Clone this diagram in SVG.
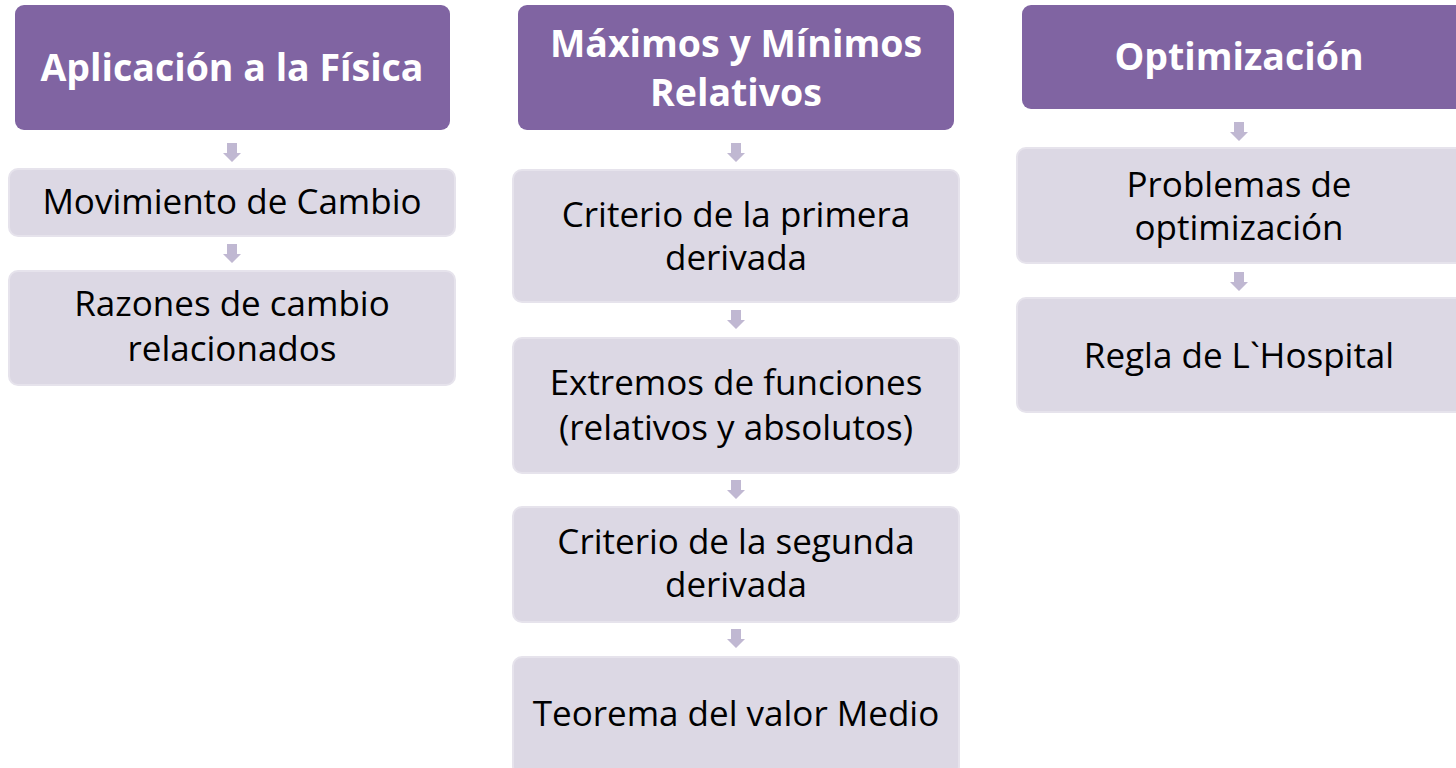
<svg xmlns="http://www.w3.org/2000/svg" xmlns:xlink="http://www.w3.org/1999/xlink" width="1456" height="768" viewBox="0 0 1456 768">
<defs>
<style>
.hdr{fill:#8064A2;}
.box{fill:#DCD8E4;stroke:#E6E3EC;stroke-width:2;}
.ht{font-family:"Open Sans",Lato,"Liberation Sans",sans-serif;font-weight:bold;font-size:37.5px;fill:#FFFFFF;text-anchor:middle;}
.bt{font-family:"Open Sans",Lato,"Liberation Sans",sans-serif;font-size:35px;fill:#000000;text-anchor:middle;}
.arr{fill:#C0B8D2;}
</style>
<path id="arrow" class="arr" d="M-5,0 H5 V10 H9 L0,19 L-9,10 H-5 Z"/>
</defs>
<rect width="1456" height="768" fill="#FFFFFF"/>
<g id="connectors">
<use xlink:href="#arrow" transform="translate(232,143)"/>
<use xlink:href="#arrow" transform="translate(232,244)"/>
<use xlink:href="#arrow" transform="translate(736,143)"/>
<use xlink:href="#arrow" transform="translate(736,310)"/>
<use xlink:href="#arrow" transform="translate(736,480)"/>
<use xlink:href="#arrow" transform="translate(736,629)"/>
<use xlink:href="#arrow" transform="translate(1239,122)"/>
<use xlink:href="#arrow" transform="translate(1239,272)"/>
</g>
<g id="fisica">
<rect class="hdr" x="15" y="5" width="435" height="125" rx="9"/>
<text class="ht" x="232" y="81">Aplicación a la Física</text>
</g>
<g id="movimiento">
<rect class="box" x="9" y="169" width="446" height="67" rx="9"/>
<text class="bt" x="232" y="214">Movimiento de Cambio</text>
</g>
<g id="razones">
<rect class="box" x="9" y="271" width="446" height="114" rx="9"/>
<text class="bt" x="232" y="316">Razones de cambio</text>
<text class="bt" x="232" y="361">relacionados</text>
</g>
<g id="maximos">
<rect class="hdr" x="518" y="5" width="436" height="125" rx="9"/>
<text class="ht" x="736" y="57">Máximos y Mínimos</text>
<text class="ht" x="736" y="106">Relativos</text>
</g>
<g id="primera">
<rect class="box" x="513" y="170" width="446" height="132" rx="9"/>
<text class="bt" x="736" y="227">Criterio de la primera</text>
<text class="bt" x="736" y="270">derivada</text>
</g>
<g id="extremos">
<rect class="box" x="513" y="338" width="446" height="135" rx="9"/>
<text class="bt" x="736" y="395">Extremos de funciones</text>
<text class="bt" x="736" y="440">(relativos y absolutos)</text>
</g>
<g id="segunda">
<rect class="box" x="513" y="507" width="446" height="115" rx="9"/>
<text class="bt" x="736" y="554">Criterio de la segunda</text>
<text class="bt" x="736" y="597">derivada</text>
</g>
<g id="teorema">
<rect class="box" x="513" y="657" width="446" height="118" rx="9"/>
<text class="bt" x="736" y="726">Teorema del valor Medio</text>
</g>
<g id="optimizacion">
<rect class="hdr" x="1022" y="5" width="446" height="104" rx="9"/>
<text class="ht" x="1239" y="70">Optimización</text>
</g>
<g id="problemas">
<rect class="box" x="1017" y="148" width="450" height="115" rx="9"/>
<text class="bt" x="1239" y="197">Problemas de</text>
<text class="bt" x="1239" y="240">optimización</text>
</g>
<g id="hospital">
<rect class="box" x="1017" y="298" width="450" height="114" rx="9"/>
<text class="bt" x="1239" y="368">Regla de L`Hospital</text>
</g>
</svg>
